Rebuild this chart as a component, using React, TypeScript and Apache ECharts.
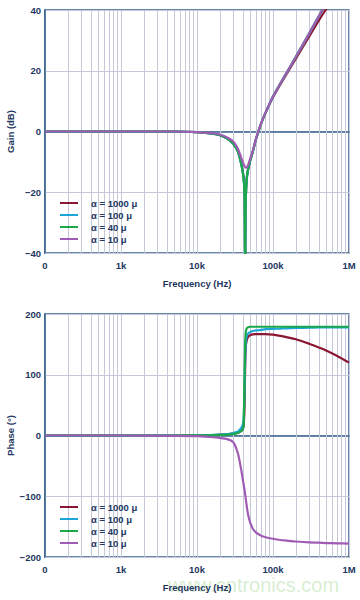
import React, { useEffect, useRef } from "react";
import * as echarts from "echarts";

const FREQ = [100, 1000, 5000, 10000, 15000, 20000, 25000, 30000, 33000, 35000, 38000, 40000, 41000, 42000, 42500, 43000, 43500, 44000, 45000, 46000, 47000, 48000, 50000, 54000, 60000, 70000, 80000, 100000, 125000, 150000, 200000, 300000, 400000, 500000, 700000, 1000000];

const SERIES_NAMES = ["α = 1000 μ", "α = 100 μ", "α = 40 μ", "α = 10 μ"];
const COLORS = ["#8a1632", "#1ca6d8", "#1aa84a", "#a05cb4"];

const GAIN_1000 = [0, 0, 0, -0.2, -0.6, -1.2, -2.3, -4.0, -5.6, -7.0, -10.3, -13.1, -15.0, -18.3, -23, -44, -26, -20.5, -16, -13.8, -12.5, -11.5, -9.6, -6.8, -2.4, 2.7, 6.2, 11.3, 15.5, 18.8, 24.0, 31.3, 36.5, 40.3, 46.0, 51.0];
const GAIN_100 = [0, 0, 0, -0.2, -0.6, -1.2, -2.3, -4.0, -5.6, -7.0, -10.4, -13.3, -15.3, -18.7, -23.5, -48, -26.5, -20.8, -16, -13.8, -12.5, -11.5, -9.6, -6.8, -2.4, 2.7, 6.2, 11.5, 15.8, 19.2, 24.6, 32.3, 37.9, 42.2, 48.6, 55];
const GAIN_40 = [0, 0, 0, -0.2, -0.6, -1.2, -2.3, -4.0, -5.6, -7.0, -10.5, -13.5, -15.5, -19, -24, -55, -27, -21, -16, -13.8, -12.5, -11.5, -9.6, -6.8, -2.4, 2.7, 6.2, 11.5, 15.8, 19.2, 24.6, 32.3, 37.9, 42.2, 48.6, 55];
const GAIN_10 = [0, 0, 0, -0.2, -0.5, -1.0, -2.0, -3.3, -4.8, -6.0, -8.5, -10.0, -10.7, -11.2, -11.5, -11.7, -11.8, -11.9, -11.9, -11.6, -11.0, -10.4, -9.0, -6.5, -2.2, 2.8, 6.3, 11.5, 15.8, 19.2, 24.6, 32.3, 37.9, 42.2, 48.6, 55];

const PHASE_1000 = [0, 0, 0, 0.4, 0.8, 1.5, 2, 3, 4, 5, 7, 11, 16, 38, 72, 110, 135, 148, 156, 160, 162, 163.5, 165, 166.5, 167, 167, 167, 166, 164, 162, 158.5, 151, 145, 140, 131, 120];
const PHASE_100 = [0, 0, 0, 0.4, 0.8, 1.5, 2.3, 4, 5.5, 7, 12, 18, 26, 60, 95, 125, 145, 155, 163, 166, 168, 169, 170, 172, 173, 174, 175, 175.5, 176, 176.5, 177, 177.5, 178, 178, 178, 178];
const PHASE_40 = [0, 0, 0, 0.3, 0.6, 1, 1.5, 2.5, 3.5, 4.5, 7, 10, 16, 80, 120, 150, 165, 172, 176, 177.5, 178, 178.5, 179, 179, 179, 179, 179, 179, 179, 179, 179, 179, 179, 179, 179, 179];
const PHASE_10 = [0, 0, -0.5, -1, -2.5, -4, -6, -11, -22, -32, -55, -72, -80, -88, -92, -97, -101, -106, -115, -123, -130, -135, -143, -153, -160, -165, -167.5, -170, -172, -173, -174.5, -176, -176.5, -177, -177.5, -178];

const X_LABELS: Record<number, string> = { 100: "0", 1000: "1k", 10000: "10k", 100000: "100k", 1000000: "1M" };
const MINOR_GRID = [200, 300, 400, 500, 600, 700, 800, 900, 2000, 3000, 4000, 5000, 6000, 7000, 8000, 9000, 20000, 30000, 40000, 50000, 60000, 70000, 80000, 90000, 200000, 300000, 400000, 500000, 600000, 700000, 800000, 900000];

const GAIN_SETS = [GAIN_1000, GAIN_100, GAIN_40, GAIN_10];
const PHASE_SETS = [PHASE_1000, PHASE_100, PHASE_40, PHASE_10];

const FONT = "Liberation Sans, Arial, sans-serif";
const TEXT_COLOR = "#1d3760";
const GRID_COLOR = "#c6c8da";
const FRAME_COLOR = "#37628c";

const fmtY = (v: number) => (v < 0 ? "\u2212" + Math.abs(v) : String(v));

export default function App() {
  const ref = useRef<HTMLDivElement>(null);
  useEffect(() => {
    if (!ref.current) return;
    const chart = echarts.init(ref.current, undefined, { renderer: "svg" });
    const grids = [
      { left: 45, top: 10, width: 304, height: 243 },
      { left: 45, top: 314, width: 304, height: 243 },
    ];
    const xAxes = [0, 1].map((i) => ({
      type: "log",
      logBase: 10,
      gridIndex: i,
      min: 100,
      max: 1000000,
      name: "Frequency (Hz)",
      nameLocation: "middle",
      nameGap: 25,
      nameMoveOverlap: false,
      nameTextStyle: { fontFamily: FONT, fontWeight: "bold", fontSize: 9.5, color: TEXT_COLOR },
      axisLine: { show: true, lineStyle: { color: FRAME_COLOR, width: 1.5 } },
      axisTick: { show: false },
      axisLabel: {
        fontFamily: FONT,
        fontWeight: "bold",
        fontSize: 9.5,
        color: TEXT_COLOR,
        margin: 7,
        formatter: (v: number) => X_LABELS[Math.round(v)] ?? "",
      },
      splitLine: { show: true, lineStyle: { color: GRID_COLOR, width: 1 } },
    }));
    const yAxes = [
      { min: -40, max: 40, interval: 20, name: "Gain (dB)" },
      { min: -200, max: 200, interval: 100, name: "Phase (°)" },
    ].map((a, i) => ({
      type: "value",
      gridIndex: i,
      min: a.min,
      max: a.max,
      interval: a.interval,
      name: a.name,
      nameLocation: "middle",
      nameGap: 30,
      nameMoveOverlap: false,
      nameTextStyle: { fontFamily: FONT, fontWeight: "bold", fontSize: 9.5, color: TEXT_COLOR },
      axisLine: { show: true, lineStyle: { color: FRAME_COLOR, width: 1.5 } },
      axisTick: { show: false },
      axisLabel: { fontFamily: FONT, fontWeight: "bold", fontSize: 9.5, color: TEXT_COLOR, margin: 4, formatter: fmtY },
      splitLine: { show: true, lineStyle: { color: GRID_COLOR, width: 1 } },
    }));

    const series: any[] = [];
    [0, 1].forEach((gi) => {
      series.push({
        type: "line",
        name: "grid" + gi,
        xAxisIndex: gi,
        yAxisIndex: gi,
        data: [[100, 0]],
        showSymbol: false,
        symbol: "none",
        lineStyle: { opacity: 0 },
        silent: true,
        z: 1,
        markLine: {
          silent: true,
          symbol: "none",
          label: { show: false },
          lineStyle: { color: GRID_COLOR, width: 1, type: "solid" },
          data: MINOR_GRID.map((f) => ({ xAxis: f })),
          z: 1,
        },
      });
      const sets = gi === 0 ? GAIN_SETS : PHASE_SETS;
      sets.forEach((vals, si) => {
        series.push({
          type: "line",
          name: SERIES_NAMES[si],
          xAxisIndex: gi,
          yAxisIndex: gi,
          data: FREQ.map((f, k) => [f, vals[k]]),
          showSymbol: false,
          symbol: "none",
          smooth: 0.3,
          color: COLORS[si],
          lineStyle: { color: COLORS[si], width: 2.2 },
          z: 5 + si,
          clip: true,
        });
      });
    });

    const legendCommon = {
      orient: "vertical",
      left: 55,
      data: SERIES_NAMES,
      icon: "rect",
      itemWidth: 18,
      itemHeight: 2,
      itemGap: 2,
      selectedMode: false,
      textStyle: { fontFamily: FONT, fontWeight: "bold", fontSize: 9.5, color: TEXT_COLOR, padding: [0, 0, 0, 8] },
    };

    chart.setOption({
      animation: false,
      backgroundColor: "#ffffff",
      grid: grids.map((g) => ({ ...g, outerBoundsMode: "none", containLabel: false, show: true, borderColor: FRAME_COLOR, borderWidth: 1.5, backgroundColor: "#fff" })),
      xAxis: xAxes,
      yAxis: yAxes,
      legend: [
        { ...legendCommon, top: 193 },
        { ...legendCommon, top: 497 },
      ],
      graphic: [
        {
          type: "text",
          left: 168,
          top: 575,
          z: -1,
          silent: true,
          style: { text: "www.cntronics.com", fontFamily: FONT, fontSize: 20, fill: "rgba(140,205,120,0.35)" },
        },
      ],
      series,
    });
    return () => chart.dispose();
  }, []);
  return <div ref={ref} style={{ position: "fixed", left: 0, top: 0, width: 360, height: 600 }} />;
}
